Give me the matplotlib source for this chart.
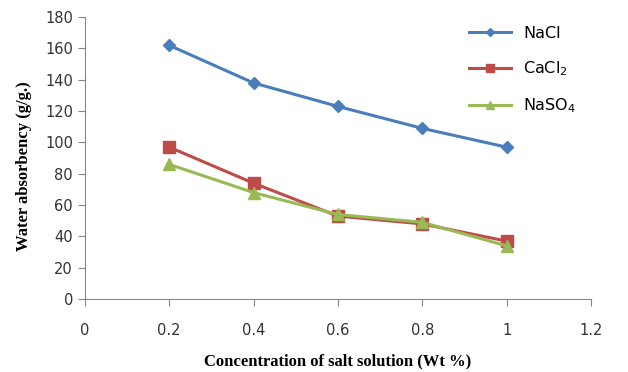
import matplotlib.pyplot as plt

conc = [0.2, 0.4, 0.6, 0.8, 1.0]
nacl = [162, 138, 123, 109, 97]
cacl2 = [97, 74, 53, 48, 37]
naso4 = [86, 68, 54, 49, 34]

fig = plt.figure(figsize=(6.28, 3.72), dpi=100)
ax = fig.add_axes([0.135, 0.196, 0.806, 0.758])

ax.plot(conc, nacl, color='#4a7ebb', lw=2.2, marker='D', ms=6, label='NaCl')
ax.plot(conc, cacl2, color='#be4b48', lw=2.2, marker='s', ms=8, label='CaCl$_2$')
ax.plot(conc, naso4, color='#98b954', lw=2.2, marker='^', ms=8, label='NaSO$_4$')

ax.set_xlim(0, 1.2)
ax.set_ylim(0, 180)
ax.set_xticks([0, 0.2, 0.4, 0.6, 0.8, 1.0, 1.2])
ax.set_xticklabels(['0', '0.2', '0.4', '0.6', '0.8', '1', '1.2'])
ax.set_yticks(range(0, 181, 20))

for s in ['top', 'right']:
    ax.spines[s].set_visible(False)
for s in ['left', 'bottom']:
    ax.spines[s].set_color('#868686')
ax.tick_params(direction='out', length=5, color='#868686', labelsize=10.5,
               labelcolor='#333333')
ax.tick_params(axis='x', pad=12)

ax.set_xlabel('Concentration of salt solution (Wt %)', family='Liberation Serif',
              fontweight='bold', fontsize=12, labelpad=11)
ax.set_ylabel('Water absorbency (g/g.)', family='Liberation Serif',
              fontweight='bold', fontsize=12, labelpad=5)
ax.yaxis.set_label_coords(-0.105, 0.47)

ax.legend(loc='upper right', bbox_to_anchor=(1.0, 1.02), frameon=False,
          fontsize=11.5, handlelength=2.6, labelspacing=1.15, markerscale=0.7)

fig.savefig('out.png')
